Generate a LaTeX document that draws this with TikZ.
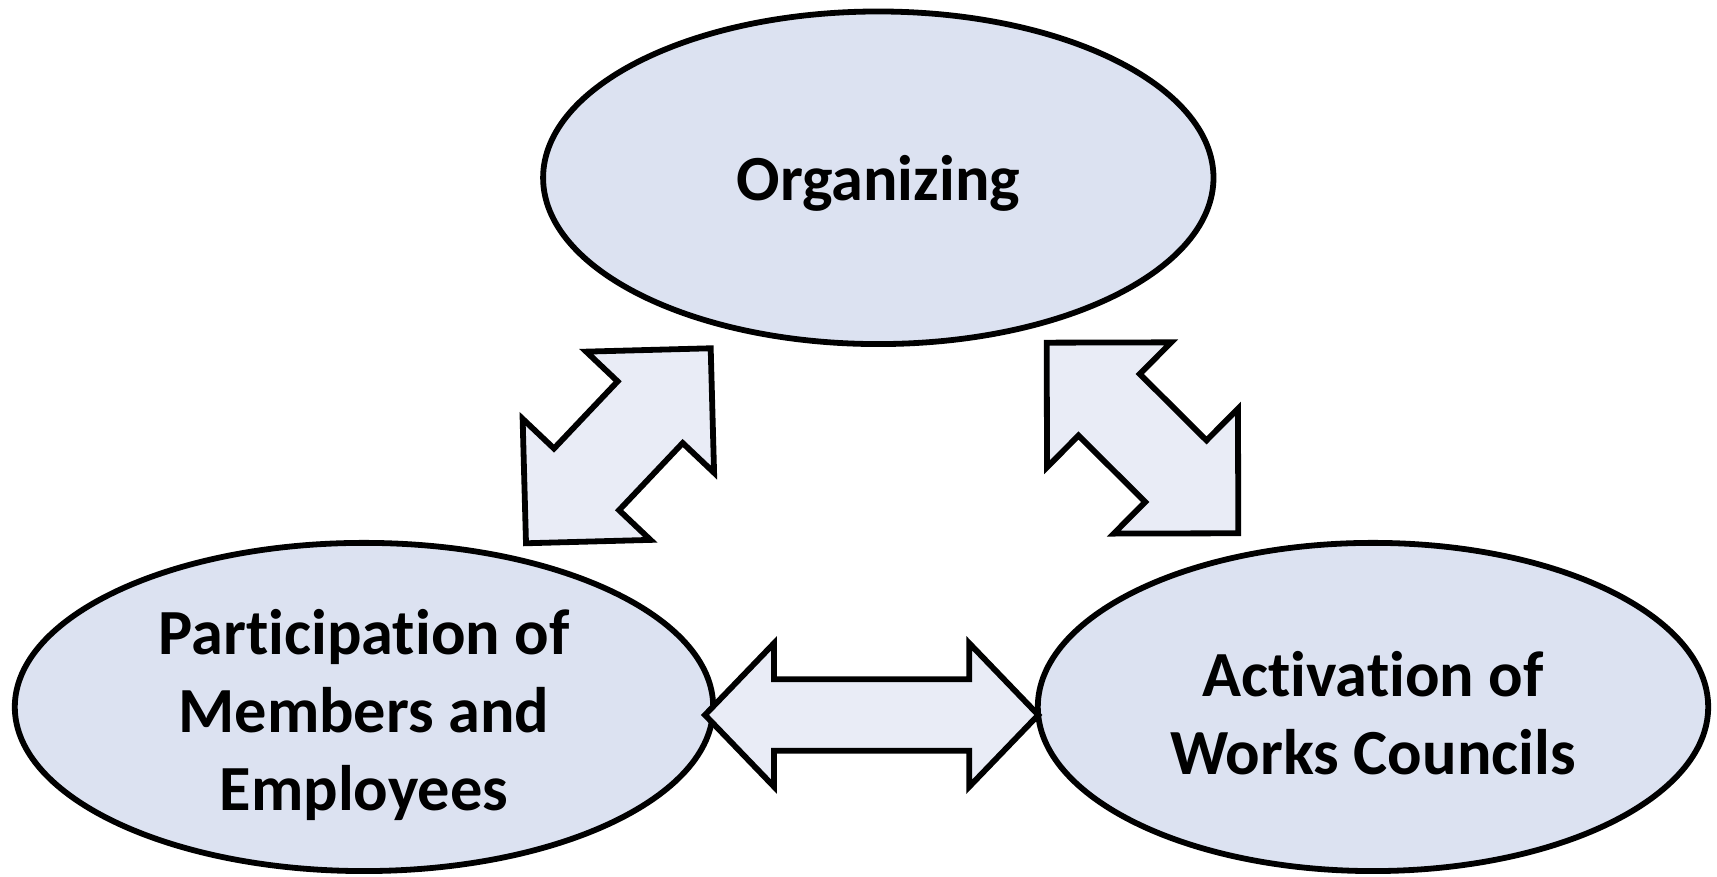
\documentclass[tikz,border=0pt]{standalone}
\usepackage{fontspec}
\setmainfont{Carlito}[Ligatures=NoCommon]
\usetikzlibrary{shapes.geometric,calc}
\definecolor{ovalblue}{RGB}{220,226,241}
\definecolor{arrowblue}{RGB}{233,236,246}
\tikzset{
  oval/.style={draw,ellipse,line width=1.65pt,fill=ovalblue,inner sep=0pt},
  ovaltext/.style={align=center,inner sep=0pt,font=\fontsize{18.3}{22.2}\selectfont\bfseries},
  blockarrow/.style={draw,line width=1.65pt,fill=arrowblue,line join=miter}
}
% double block arrow between two tips: head length, head half width, shaft half width
\newcommand{\dblarrow}[5]{%
  \draw[blockarrow] (#1)
    -- ($(#1)!#3!(#2)!#4!90:(#2)$) -- ($(#1)!#3!(#2)!#5!90:(#2)$)
    -- ($(#2)!#3!(#1)!#5!-90:(#1)$) -- ($(#2)!#3!(#1)!#4!-90:(#1)$)
    -- (#2)
    -- ($(#2)!#3!(#1)!#4!90:(#1)$) -- ($(#2)!#3!(#1)!#5!90:(#1)$)
    -- ($(#1)!#3!(#2)!#5!-90:(#2)$) -- ($(#1)!#3!(#2)!#4!-90:(#2)$)
    -- cycle;}

\begin{document}
\begin{tikzpicture}[x=0.01cm,y=0.01cm]
\useasboundingbox (0,0) rectangle (1717,877);

\node[oval,minimum width=6.70cm,minimum height=3.324cm] (org) at (878.3,699.2) {};
\node[oval,minimum width=6.98cm,minimum height=3.28cm] (partic) at (364,170) {};
\node[oval,minimum width=6.70cm,minimum height=3.28cm] (activ) at (1373,170) {};

\node[ovaltext] (orgtext) at ([yshift=-0.06cm]org.center) {Organizing};
\node[ovaltext] (partictext) at ([yshift=-0.08cm]partic.center)
  {Participation of\\Members and\\Employees};
\node[ovaltext] (activtext) at ([yshift=-0.06cm]activ.center)
  {Activation of\\Works Councils};

\coordinate (po-a) at (526,333.7);
\coordinate (po-b) at (710.7,528.7);
\coordinate (oa-a) at (1046.7,534.3);
\coordinate (oa-b) at (1238.3,343.7);
\coordinate (pa-a) at (705,162);
\coordinate (pa-b) at (1038.3,162);

\dblarrow{po-a}{po-b}{0.88cm}{0.88cm}{0.448cm}
\dblarrow{oa-a}{oa-b}{0.88cm}{0.88cm}{0.434cm}
\dblarrow{pa-a}{pa-b}{0.69cm}{0.717cm}{0.358cm}

\end{tikzpicture}
\end{document}
